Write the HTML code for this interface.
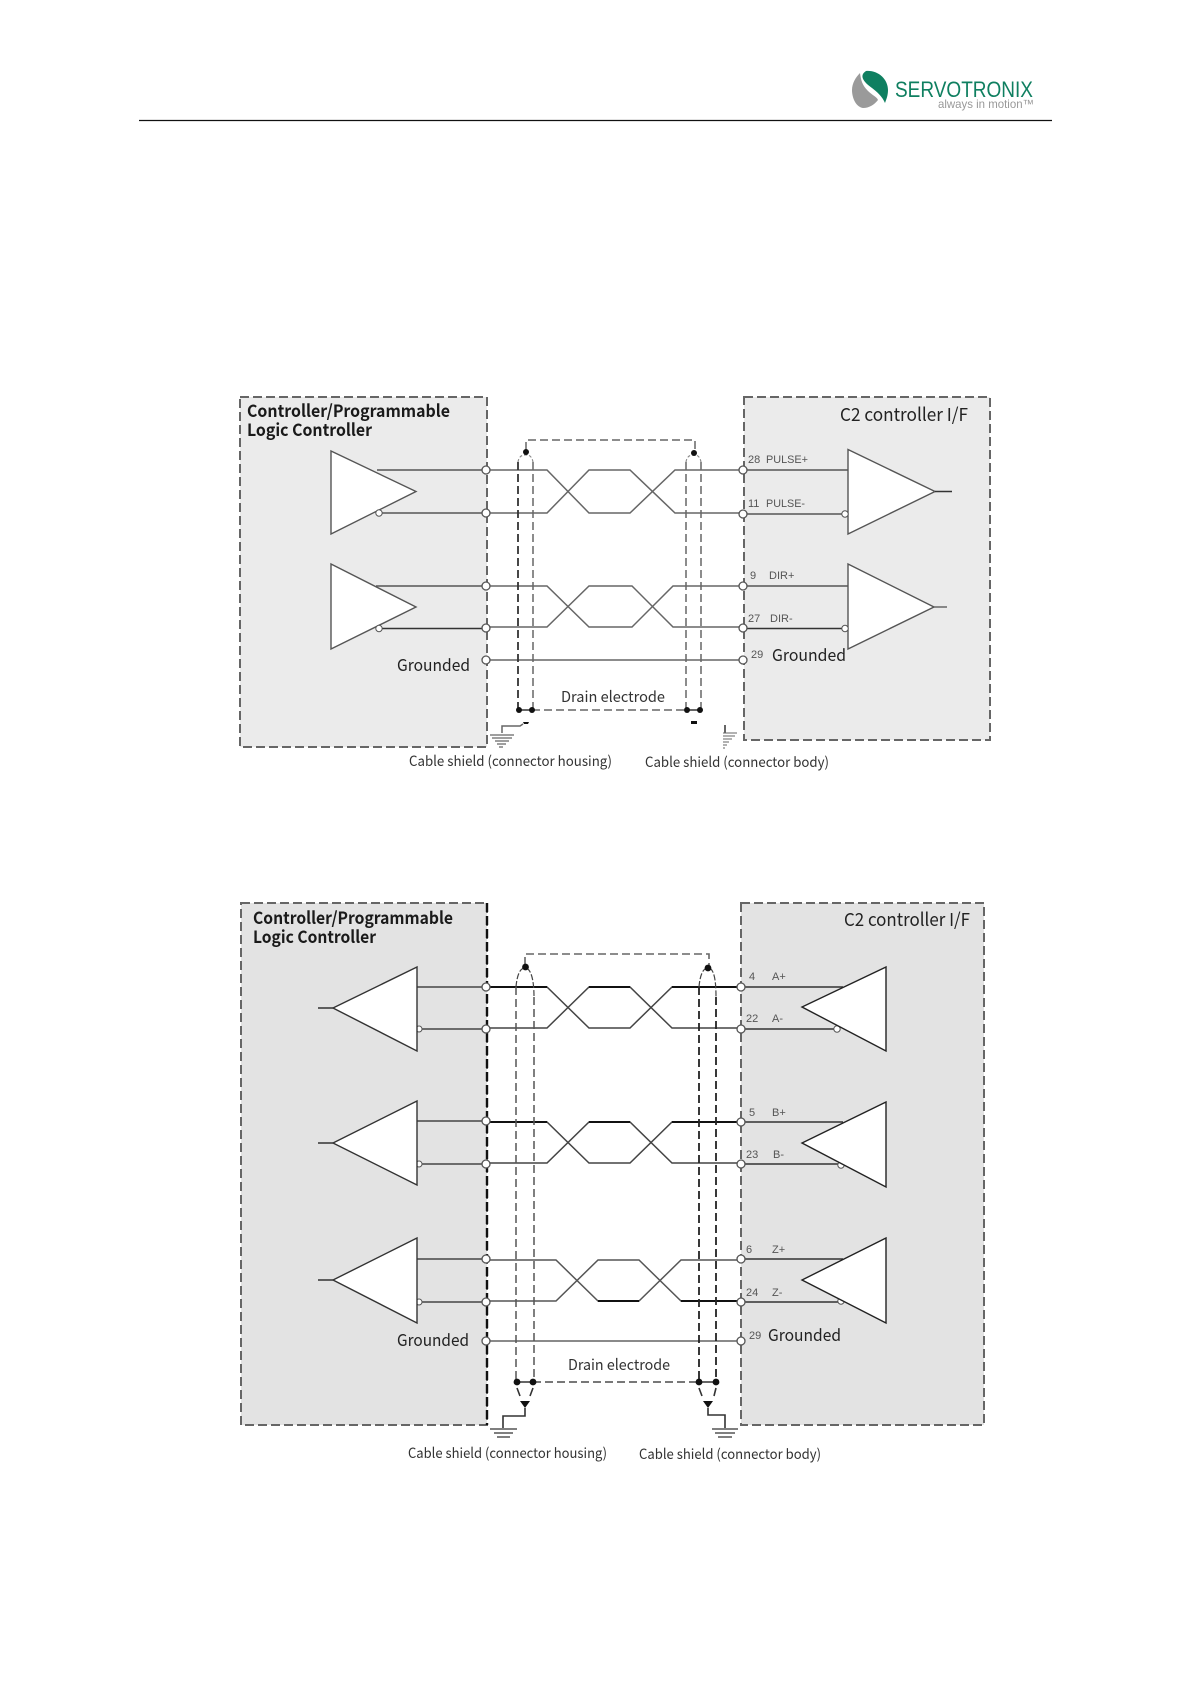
<!DOCTYPE html>
<html><head><meta charset="utf-8"><style>
html,body{margin:0;padding:0;background:#fff}
svg{display:block;filter:blur(.3px)}
text{font-family:"Noto Sans CJK SC","Liberation Sans",sans-serif;fill:#222}
.b{font-weight:700;font-size:17px;fill:#1a1a1a}
.g{font-size:16.5px}
.c{font-size:14px;fill:#333}
.p{font-family:"Liberation Sans",sans-serif;font-size:11px;fill:#555}
.box1{fill:#ebebeb;stroke:#666;stroke-width:2;stroke-dasharray:9 4}
.box2{fill:#e3e3e3;stroke:#666;stroke-width:2;stroke-dasharray:9 4}
.tri{fill:#fff;stroke:#555;stroke-width:1.4;stroke-linejoin:miter}
.w{fill:none;stroke:#666;stroke-width:1.5}
.k{fill:none;stroke:#333;stroke-width:1.6}
.d{fill:none;stroke:#666;stroke-width:1.5;stroke-dasharray:8 4}
.dk{fill:none;stroke:#222;stroke-width:1.8;stroke-dasharray:8 4}
.o{fill:#fff;stroke:#555;stroke-width:1.3}
.s{fill:#fff;stroke:#555;stroke-width:1}
.j{fill:#111}
</style></head><body>
<svg width="1191" height="1684" viewBox="0 0 1191 1684" xmlns="http://www.w3.org/2000/svg">
<rect width="1191" height="1684" fill="#fff"/>
<!-- Header -->
<line x1="139" y1="120.5" x2="1052" y2="120.5" stroke="#111" stroke-width="1.2"/>
<path d="M866 71C878 70 888 79 888 90C888 96 886 100 885 103C882 96 877 92 872 88C865 83 858 76 866 71Z" fill="#0f7f60"/>
<path d="M860 73C861 80 862 85 868 91C872 95 877 97 878 100C874 105 869 108 863 108C856 107 852 98 852 90C852 83 856 77 860 73Z" fill="#9a9a9a"/>
<text x="895" y="97" style="font-family:'Liberation Sans',sans-serif;font-size:22px;fill:#0f7f60" textLength="138" lengthAdjust="spacingAndGlyphs">SERVOTRONIX</text>
<text x="938" y="108" style="font-family:'Liberation Sans',sans-serif;font-size:12px;fill:#999" textLength="96" lengthAdjust="spacingAndGlyphs">always in motion™</text>

<!-- Diagram 1 -->
<rect class="box1" x="240" y="397" width="247" height="350"/>
<rect class="box1" x="744" y="397" width="246" height="343"/>
<text class="b" x="247" y="417" textLength="203" lengthAdjust="spacingAndGlyphs">Controller/Programmable</text>
<text class="b" x="247" y="436" textLength="125" lengthAdjust="spacingAndGlyphs">Logic Controller</text>
<text x="840" y="421" style="font-size:18px" textLength="128" lengthAdjust="spacingAndGlyphs">C2 controller I/F</text>
<path class="tri" d="M331 451L416 491.5L331 534Z"/>
<path class="tri" d="M331 564L416 607L331 649Z"/>
<path class="tri" d="M848 449.5L935 491.5L848 534Z"/>
<path class="tri" d="M848 564L934 607L848 649Z"/>
<path class="w" d="M377 470H486M379 513H486M376 586H486" style="stroke:#555"/>
<path class="k" d="M379 628.5H486"/>
<path class="w" d="M743 470H848M743 514H845M743 586H848" style="stroke:#555"/>
<path class="k" d="M743 628.5H845"/>
<path class="k" d="M935 491.5H952"/><path class="w" d="M934 607H947"/>
<path class="w" d="M486 470H547L589 513H630L675 470H743"/>
<path class="w" d="M486 513H547L589 470H630L675 513H743"/>
<path class="w" d="M486 586H547L589 627H632L673 586H743"/>
<path class="w" d="M486 627H547L589 586H632L673 627H743"/>
<path class="w" d="M486 660H743"/>
<circle class="s" cx="379" cy="513" r="3.2"/><circle class="s" cx="379" cy="628.5" r="3.2"/>
<circle class="s" cx="845" cy="514" r="3.2"/><circle class="s" cx="845" cy="628.5" r="3.2"/>
<circle class="o" cx="486" cy="470" r="4"/><circle class="o" cx="486" cy="513" r="4"/><circle class="o" cx="486" cy="586" r="4"/><circle class="o" cx="486" cy="628" r="4"/><circle class="o" cx="486" cy="660" r="4"/>
<circle class="o" cx="743" cy="470" r="4"/><circle class="o" cx="743" cy="514" r="4"/><circle class="o" cx="743" cy="586" r="4"/><circle class="o" cx="743" cy="628" r="4"/><circle class="o" cx="743" cy="660" r="4"/>
<path class="dk" d="M518 462V710" style="stroke:#333"/>
<path class="d" d="M533 462V710M686 462V710M701 462V710"/>
<path d="M518 462C519 456 522 455 526 455C530 455 532 457 533 462M686 462C687 456 690 455 694 455C698 455 700 457 701 462" fill="none" stroke="#888" stroke-width="1.1" stroke-dasharray="3 2"/>
<path class="d" d="M526 450V440H695V452"/>
<circle class="j" cx="526" cy="452" r="3"/><circle class="j" cx="694" cy="453" r="3"/>
<path class="d" d="M532 710H687"/>
<path class="k" d="M519 710H532M687 710H700" />
<circle class="j" cx="519" cy="710" r="3"/><circle class="j" cx="532" cy="710" r="3"/><circle class="j" cx="687" cy="710" r="3"/><circle class="j" cx="700" cy="710" r="3"/>
<path d="M523 722H529L528 724H524Z" fill="#111"/><rect x="691" y="721" width="6" height="3" fill="#111"/>
<path class="w" d="M523 724L520 726H502V733"/>
<path class="w" d="M490 735H514M492 738H512M495 741H509M497 744H506M499 747H503" style="stroke-width:1.2"/>
<path class="w" d="M725 725V733" style="stroke:#333"/>
<path class="w" d="M723 733H737M723 736H735M723 739H732M723 742H729M723 745H727M723 748H725" style="stroke-width:1"/>
<text class="g" x="397" y="671" textLength="73" lengthAdjust="spacingAndGlyphs">Grounded</text>
<text class="g" x="772" y="661" textLength="74" lengthAdjust="spacingAndGlyphs">Grounded</text>
<text class="c" x="561" y="702" style="font-size:15px" textLength="104" lengthAdjust="spacingAndGlyphs">Drain electrode</text>
<text class="c" x="409" y="766" textLength="203" lengthAdjust="spacingAndGlyphs">Cable shield (connector housing)</text>
<text class="c" x="645" y="767" textLength="184" lengthAdjust="spacingAndGlyphs">Cable shield (connector body)</text>
<text class="p" x="748" y="463">28</text><text class="p" x="766" y="463" textLength="42" lengthAdjust="spacingAndGlyphs">PULSE+</text>
<text class="p" x="748" y="507">11</text><text class="p" x="766" y="507" textLength="39" lengthAdjust="spacingAndGlyphs">PULSE-</text>
<text class="p" x="750" y="579">9</text><text class="p" x="769" y="579">DIR+</text>
<text class="p" x="748" y="622">27</text><text class="p" x="770" y="622">DIR-</text>
<text class="p" x="751" y="658">29</text>

<!-- Diagram 2 -->
<rect class="box2" x="241" y="903" width="246" height="522"/>
<rect class="box2" x="741" y="903" width="243" height="522"/>
<path d="M487 903V1425" style="stroke:#111;stroke-width:2.4;stroke-dasharray:9 4;fill:none"/>
<text class="b" x="253" y="924" textLength="200" lengthAdjust="spacingAndGlyphs">Controller/Programmable</text>
<text class="b" x="253" y="943" textLength="123" lengthAdjust="spacingAndGlyphs">Logic Controller</text>
<text x="844" y="926" style="font-size:18px" textLength="126" lengthAdjust="spacingAndGlyphs">C2 controller I/F</text>
<path class="w" d="M417 987H486M417 1029H486M417 1121H486M417 1164H486M417 1259H486M417 1302H486" style="stroke:#444"/>
<path class="w" d="M741 987H843M741 1029H837M741 1122H843M741 1164H841M741 1259H843M741 1302H841" style="stroke:#333"/>
<path class="k" d="M318 1008H333M318 1143H333M318 1280H333"/>
<circle class="s" cx="419" cy="1029" r="3"/><circle class="s" cx="419" cy="1164" r="3"/><circle class="s" cx="419" cy="1302" r="3"/>
<circle class="s" cx="837" cy="1029" r="3.2"/><circle class="s" cx="841" cy="1165" r="3.2"/><circle class="s" cx="841" cy="1301" r="3.2"/>
<path class="tri" style="stroke:#333" d="M417 967L333 1008L417 1051Z"/>
<path class="tri" style="stroke:#333" d="M417 1101L333 1143L417 1185Z"/>
<path class="tri" style="stroke:#333" d="M417 1238L333 1280L417 1323Z"/>
<path class="tri" style="stroke:#222" d="M886 967L802 1007L886 1051Z"/>
<path class="tri" style="stroke:#222" d="M886 1102L802 1143L886 1187Z"/>
<path class="tri" style="stroke:#222" d="M886 1238L802 1280L886 1323Z"/>
<path class="w" style="stroke:#444" d="M486 987H547L589 1028H630L672 987H741"/>
<path class="w" style="stroke:#444" d="M486 1028H547L589 987H630L672 1028H741"/>
<path class="w" style="stroke:#444" d="M486 1122H547L589 1163H630L672 1122H741"/>
<path class="w" style="stroke:#444" d="M486 1163H547L589 1122H630L672 1163H741"/>
<path class="w" style="stroke:#555" d="M486 1260H556L598 1301H639L681 1260H741"/>
<path class="w" style="stroke:#555" d="M486 1301H556L598 1260H639L681 1301H741"/>
<path d="M486 987H547M589 987H630M672 987H741M486 1122H547M589 1122H630M672 1122H741M556 1301H556M598 1301H639M681 1301H741" fill="none" stroke="#111" stroke-width="1.9"/>
<path class="w" d="M486 1341H741" style="stroke-width:1.2;stroke:#444"/>
<path class="d" d="M516 987V1380M534 997V1380" style="stroke:#555"/>
<path class="dk" d="M699 987V1380M716 997V1380"/>
<path d="M516 987C517 975 520 968 525 968C531 968 534 980 534 997M699 987C700 975 703 968 708 968C714 968 716 980 716 997" fill="none" stroke="#444" stroke-width="1.2" stroke-dasharray="6 2"/>
<path class="d" d="M525 965V954H709V965" style="stroke-width:1.6"/>
<circle class="j" cx="525.5" cy="967" r="3.4"/><circle class="j" cx="708" cy="968" r="3.4"/>
<path class="d" d="M533 1382H699" style="stroke-width:1.8"/>
<path class="k" d="M517 1382H533M699 1382H716M517 1388L520 1396M533 1388L530 1396M699 1388L702 1396M716 1388L714 1396"/>
<circle class="j" cx="517" cy="1382" r="3.4"/><circle class="j" cx="533" cy="1382" r="3.4"/><circle class="j" cx="699" cy="1382" r="3.4"/><circle class="j" cx="716" cy="1382" r="3.4"/>
<path d="M520 1401H530L525 1408Z" fill="#111"/><path d="M703 1401H713L708 1408Z" fill="#111"/>
<path class="k" d="M525 1408V1416H503V1428M708 1408V1415H725V1428"/>
<path class="k" d="M490 1429H517M494 1433H513M497 1437H510M712 1429H738M715 1433H735M718 1437H732" style="stroke-width:1.3"/>
<circle class="o" cx="486" cy="987" r="4"/><circle class="o" cx="486" cy="1029" r="4"/><circle class="o" cx="486" cy="1121" r="4"/><circle class="o" cx="486" cy="1164" r="4"/><circle class="o" cx="486" cy="1259" r="4"/><circle class="o" cx="486" cy="1302" r="4"/><circle class="o" cx="486" cy="1341" r="4"/>
<circle class="o" cx="741" cy="987" r="4"/><circle class="o" cx="741" cy="1029" r="4"/><circle class="o" cx="741" cy="1122" r="4"/><circle class="o" cx="741" cy="1164" r="4"/><circle class="o" cx="741" cy="1259" r="4"/><circle class="o" cx="741" cy="1302" r="4"/><circle class="o" cx="741" cy="1341" r="4"/>
<text class="g" x="397" y="1346" textLength="72" lengthAdjust="spacingAndGlyphs">Grounded</text>
<text class="g" x="768" y="1341" textLength="73" lengthAdjust="spacingAndGlyphs">Grounded</text>
<text class="c" x="568" y="1370" style="font-size:15px" textLength="102" lengthAdjust="spacingAndGlyphs">Drain electrode</text>
<text class="c" x="408" y="1458" textLength="199" lengthAdjust="spacingAndGlyphs">Cable shield (connector housing)</text>
<text class="c" x="639" y="1459" textLength="182" lengthAdjust="spacingAndGlyphs">Cable shield (connector body)</text>
<text class="p" x="749" y="980">4</text><text class="p" x="772" y="980">A+</text>
<text class="p" x="746" y="1022">22</text><text class="p" x="772" y="1022">A-</text>
<text class="p" x="749" y="1116">5</text><text class="p" x="772" y="1116">B+</text>
<text class="p" x="746" y="1158">23</text><text class="p" x="773" y="1158">B-</text>
<text class="p" x="746" y="1253">6</text><text class="p" x="772" y="1253">Z+</text>
<text class="p" x="746" y="1296">24</text><text class="p" x="772" y="1296">Z-</text>
<text class="p" x="749" y="1339">29</text>
</svg>
</body></html>
